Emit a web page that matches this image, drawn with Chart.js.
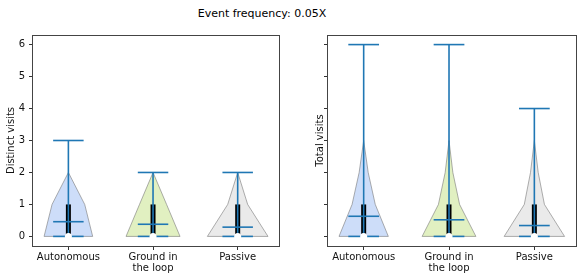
<!DOCTYPE html>
<html>
<head>
<meta charset="utf-8">
<script src="https://cdn.jsdelivr.net/npm/chart.js@4.4.0/dist/chart.umd.min.js"></script>
<style>
html, body { margin: 0; padding: 0; background: #fff; }
#wrap { position: relative; width: 582px; height: 280px; font-family: 'DejaVu Sans', sans-serif; }
#title { position: absolute; left: 0; top: 6px; width: 524px; text-align: center; font-size: 11px; line-height: 16px; color: #000; }
canvas { position: absolute; top: 0; }
#distinctChart { left: 0; }
#totalChart { left: 291px; }
</style>
</head>
<body>
<div id="wrap">
  <div id="title">Event frequency: 0.05X</div>
  <canvas id="distinctChart" width="291" height="280"></canvas>
  <canvas id="totalChart" width="291" height="280"></canvas>
</div>
<script>
const categories = ['Autonomous', ['Ground in', 'the loop'], 'Passive'];
const yTicks = [0, 1, 2, 3, 4, 5, 6];
const densityLevels = [0, 1, 2, 3];

// distinct visits
const distinctMin = [0, 0, 0];
const distinctQ1 = [0, 0, 0];
const distinctMedian = [0, 0, 0];
const distinctQ3 = [1, 1, 1];
const distinctMax = [3, 2, 2];
const distinctMean = [0.46, 0.38, 0.29];
const distinctDensity = [[0.287, 0.193, 0, 0], [0.319, 0.16, 0, 0], [0.358, 0.118, 0, 0]];

// total visits
const totalMin = [0, 0, 0];
const totalQ1 = [0, 0, 0];
const totalMedian = [0, 0, 0];
const totalQ3 = [1, 1, 1];
const totalMax = [6, 6, 4];
const totalMean = [0.63, 0.52, 0.34];
const totalDensity = [[0.289, 0.136, 0.053, 0], [0.315, 0.124, 0.045, 0], [0.354, 0.118, 0.045, 0]];

const bodyColors = ['rgba(100,149,237,0.32)', 'rgba(154,205,50,0.3)', 'rgba(150,150,150,0.2)'];
const blue = '#1f77b4';
const capHalf = 0.18;
const family = "'DejaVu Sans', sans-serif";

Chart.defaults.font.family = family;

const violinBodies = {
    id: 'violinBodies',
    beforeDatasetsDraw(chart, args, opts) {
        const { ctx, scales: { x, y } } = chart;
        opts.density.forEach((widths, i) => {
            const c = i + 1;
            let top = widths.findIndex((w, k) => k > 0 && w === 0);
            if (top < 0) top = widths.length - 1;
            ctx.save();
            ctx.beginPath();
            for (let k = 0; k <= top; k++) {
                const px = x.getPixelForValue(c - widths[k]);
                const py = y.getPixelForValue(densityLevels[k]);
                if (k === 0) ctx.moveTo(px, py); else ctx.lineTo(px, py);
            }
            for (let k = top; k >= 0; k--) {
                ctx.lineTo(x.getPixelForValue(c + widths[k]), y.getPixelForValue(densityLevels[k]));
            }
            ctx.closePath();
            ctx.fillStyle = bodyColors[i];
            ctx.fill();
            ctx.strokeStyle = 'rgba(110,110,110,0.55)';
            ctx.lineWidth = 1;
            ctx.stroke();
            ctx.restore();
        });
    }
};

const frame = {
    id: 'frame',
    afterDatasetsDraw(chart) {
        const { ctx, chartArea: a } = chart;
        ctx.save();
        ctx.strokeStyle = '#444';
        ctx.lineWidth = 1;
        ctx.strokeRect(Math.round(a.left) - 0.5, Math.round(a.top) + 0.5, Math.round(a.right - a.left) + 1, Math.round(a.bottom - a.top));
        ctx.restore();
    }
};

const line = (points, color, width, order) => ({
    data: points,
    showLine: true,
    borderColor: color,
    borderWidth: width,
    borderCapStyle: 'butt',
    pointRadius: 0,
    order: order
});

function buildDatasets(mins, q1, med, q3, maxs, means) {
    const sets = [];
    categories.forEach((_, i) => {
        const c = i + 1;
        sets.push(line([{ x: c, y: q1[i] }, { x: c, y: q3[i] }], '#000', 5, 3));
        sets.push(line([{ x: c, y: mins[i] }, { x: c, y: maxs[i] }], blue, 1.6, 2));
        [mins[i], maxs[i], means[i]].forEach(v => {
            sets.push(line([{ x: c - capHalf, y: v }, { x: c + capHalf, y: v }], blue, 1.6, 2));
        });
        sets.push({
            data: [{ x: c, y: med[i] }],
            pointRadius: 3.5,
            pointBackgroundColor: '#fff',
            pointBorderColor: '#fff',
            pointBorderWidth: 0,
            order: 1
        });
    });
    return sets;
}

function makePanel(id, datasets, density, yTitle, titlePad, showLabels, yWidth, rightPad) {
    return new Chart(document.getElementById(id), {
        type: 'scatter',
        data: { datasets: datasets },
        plugins: [violinBodies, frame],
        options: {
            responsive: false,
            animation: false,
            events: [],
            layout: { padding: { left: 0, right: rightPad, top: 35, bottom: 0 } },
            plugins: {
                legend: { display: false },
                tooltip: { enabled: false },
                violinBodies: { density: density }
            },
            scales: {
                x: {
                    type: 'linear',
                    min: 0.582,
                    max: 3.488,
                    afterBuildTicks: s => { s.ticks = categories.map((_, i) => ({ value: i + 1 })); },
                    afterFit: s => { s.height = 34; },
                    ticks: {
                        callback: (v, idx) => categories[idx],
                        color: '#111',
                        font: { size: 10, lineHeight: 1.1 },
                        padding: 2,
                        maxRotation: 0,
                        autoSkip: false
                    },
                    grid: { drawOnChartArea: false, tickLength: 4, tickColor: '#333' },
                    border: { display: false }
                },
                y: {
                    type: 'linear',
                    min: -0.3,
                    max: 6.3,
                    afterBuildTicks: s => { s.ticks = yTicks.map(v => ({ value: v })); },
                    afterFit: s => { s.width = yWidth; },
                    ticks: {
                        callback: v => showLabels ? v : '',
                        color: '#111',
                        font: { size: 10 },
                        padding: 4
                    },
                    grid: { drawOnChartArea: false, tickLength: 4, tickColor: '#333' },
                    border: { display: false },
                    title: {
                        display: true,
                        text: yTitle,
                        color: '#111',
                        font: { size: 10 },
                        padding: { top: titlePad, bottom: 0 }
                    }
                }
            }
        }
    });
}

makePanel('distinctChart',
    buildDatasets(distinctMin, distinctQ1, distinctMedian, distinctQ3, distinctMax, distinctMean),
    distinctDensity, 'Distinct visits', 5, true, 33, 12);

makePanel('totalChart',
    buildDatasets(totalMin, totalQ1, totalMedian, totalQ3, totalMax, totalMean),
    totalDensity, 'Total visits', 23.5, false, 37, 6);
</script>
</body>
</html>
